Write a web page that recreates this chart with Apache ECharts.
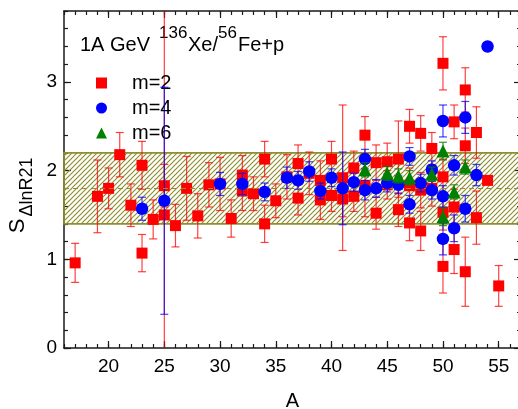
<!DOCTYPE html>
<html><head><meta charset="utf-8">
<script src="https://cdn.jsdelivr.net/npm/echarts@6/dist/echarts.min.js"></script>
<style>html,body{margin:0;padding:0;background:#fff}#c{width:518px;height:409px}</style>
</head><body><div id="c"></div>
<script>
// ---- data ----
const xMajorTicks = [20, 25, 30, 35, 40, 45, 50, 55];
const yMajorTicks = [0, 1, 2, 3];
const xRange = [16, 57];
const yRange = [0, 3.8];

const m2A = [17,19,20,21,22,23,23,24,25,25,26,27,28,29,30,31,32,32,33,34,34,35,36,37,37,38,39,39,40,40,41,41,42,42,43,43,44,44,45,45,46,46,47,47,47,48,48,48,49,49,50,50,50,50,51,51,51,52,52,52,53,53,54,55];
const m2V = [0.96,1.71,1.80,2.18,1.61,2.06,1.07,1.45,1.83,1.50,1.38,1.80,1.49,1.84,1.85,1.46,1.95,1.77,1.74,2.13,1.40,1.66,1.93,2.08,1.69,1.97,1.89,1.67,2.13,1.72,1.92,1.68,2.03,1.71,2.40,1.83,2.09,1.52,2.10,1.84,2.13,1.56,2.50,1.83,1.41,2.42,1.78,1.32,2.25,1.80,3.21,1.93,1.53,0.92,2.55,1.59,1.11,2.91,2.28,0.86,2.43,1.47,1.89,0.70];
const m2E = [0.22,0.41,0.23,0.25,0.24,0.27,0.21,0.22,0.24,3.00,0.24,0.36,0.25,0.25,0.30,0.21,0.22,0.22,0.19,0.20,0.21,0.19,0.25,0.21,0.19,0.24,0.22,0.22,0.20,0.18,0.82,0.20,0.19,0.17,0.21,0.35,0.20,0.18,0.21,0.16,0.43,0.19,0.19,0.20,0.20,0.20,0.20,0.22,0.18,0.20,0.30,0.20,0.20,0.30,0.19,0.20,0.27,0.25,0.20,0.39,0.29,0.30,0.00,0.23];

const m4A = [23,25,30,32,34,36,37,38,39,40,41,42,43,43,44,45,46,47,47,48,49,49,50,50,50,51,51,52,52,53,54];
const m4V = [1.57,1.66,1.85,1.85,1.76,1.92,1.89,1.99,1.77,1.92,1.80,1.87,2.13,1.78,1.80,1.86,1.84,2.16,1.62,1.86,2.01,1.78,2.56,1.71,1.23,2.06,1.35,2.60,1.57,1.95,3.40];
const m4E = [0.13,1.28,0.13,0.12,0.10,0.12,0.10,0.11,0.09,0.10,0.41,0.10,0.11,0.11,0.10,0.10,0.10,0.10,0.10,0.10,0.10,0.10,0.18,0.12,0.18,0.11,0.15,0.18,0.15,0.12,0.00];

const m6A = [43,45,46,47,49,50,50,51,52];
const m6V = [2.01,1.97,1.94,1.92,1.96,2.22,1.48,1.76,2.04];
const m6E = [0.08,0.08,0.08,0.08,0.08,0.10,0.10,0.08,0.08];

const bandLow = 1.4, bandHigh = 2.2, bandMid = 1.8;
const seriesNames = ['m=2', 'm=4', 'm=6'];

// ---- helpers ----
const FONT = "'Liberation Sans', Arial, sans-serif";
const AXIS_COLOR = '#1a1a1a';
const OLIVE = '#8f8f30';

function pts(A, V) { return A.map((a, i) => [a, V[i]]); }
function errs(A, V, E) { return A.map((a, i) => [a, V[i] - E[i], V[i] + E[i]]); }

function hatch() {
  const s = 5;
  const c = document.createElement('canvas');
  c.width = s; c.height = s;
  const g = c.getContext('2d');
  g.strokeStyle = OLIVE;
  g.lineWidth = 1.2;
  g.beginPath();
  g.moveTo(0, s); g.lineTo(s, 0);
  g.moveTo(-1, 1); g.lineTo(1, -1);
  g.moveTo(s - 1, s + 1); g.lineTo(s + 1, s - 1);
  g.stroke();
  return c;
}

function errRender(color) {
  return function (params, api) {
    const x = api.value(0), lo = api.value(1), hi = api.value(2);
    if (!(hi - lo > 0)) return null;
    const p1 = api.coord([x, hi]);
    const p2 = api.coord([x, lo]);
    const w = 4;
    const st = { stroke: color, lineWidth: 1.2, fill: null };
    return {
      type: 'group',
      children: [
        { type: 'line', shape: { x1: p1[0], y1: p1[1], x2: p2[0], y2: p2[1] }, style: st },
        { type: 'line', shape: { x1: p1[0] - w, y1: p1[1], x2: p1[0] + w, y2: p1[1] }, style: st },
        { type: 'line', shape: { x1: p2[0] - w, y1: p2[1], x2: p2[0] + w, y2: p2[1] }, style: st }
      ]
    };
  };
}

const isMult = (v, m) => Math.abs(v / m - Math.round(v / m)) < 1e-6;

const gridRect = { left: 64, top: 11, width: 457, height: 337 };

function minorX(pos, labels) {
  return {
    type: 'value', gridIndex: 0, position: pos, min: xRange[0], max: xRange[1], interval: 1,
    axisLine: { show: true, onZero: false, lineStyle: { color: AXIS_COLOR, width: 1.5 } },
    axisTick: { show: true, inside: true, length: 4, lineStyle: { color: AXIS_COLOR, width: 1.2 } },
    axisLabel: labels ? {
      show: true, margin: 9, color: '#000', fontSize: 19, fontFamily: FONT,
      formatter: v => isMult(v, 5) ? String(Math.round(v)) : ''
    } : { show: false },
    splitLine: { show: false },
    name: labels ? 'A' : '', nameLocation: 'middle', nameGap: 43,
    nameTextStyle: { fontSize: 20, color: '#000', fontFamily: FONT }
  };
}
function majorX(pos) {
  return {
    type: 'value', gridIndex: 1, position: pos, min: xRange[0], max: xRange[1], interval: 1,
    axisLine: { show: false, onZero: false },
    axisTick: { show: true, inside: true, length: 7, customValues: xMajorTicks, lineStyle: { color: AXIS_COLOR, width: 1.2 } },
    axisLabel: { show: false }, splitLine: { show: false }
  };
}
function minorY(pos, labels) {
  return {
    type: 'value', gridIndex: 0, position: pos, min: yRange[0], max: yRange[1], interval: 0.2,
    axisLine: { show: true, onZero: false, lineStyle: { color: AXIS_COLOR, width: 1.5 } },
    axisTick: { show: true, inside: true, length: 4, lineStyle: { color: AXIS_COLOR, width: 1.2 } },
    axisLabel: labels ? {
      show: true, margin: 7, color: '#000', fontSize: 19, fontFamily: FONT,
      formatter: v => isMult(v, 1) ? String(Math.round(v)) : ''
    } : { show: false },
    splitLine: { show: false }
  };
}
function majorY(pos) {
  return {
    type: 'value', gridIndex: 1, position: pos, min: yRange[0], max: yRange[1], interval: 1,
    axisLine: { show: false, onZero: false },
    axisTick: { show: true, inside: true, length: 7, customValues: yMajorTicks, lineStyle: { color: AXIS_COLOR, width: 1.2 } },
    axisLabel: { show: false }, splitLine: { show: false }
  };
}

const chart = echarts.init(document.getElementById('c'), null, { renderer: 'canvas' });
const pattern = { image: hatch(), repeat: 'repeat' };

chart.setOption({
  animation: false,
  backgroundColor: '#fff',
  grid: [
    Object.assign({ outerBoundsMode: 'none', containLabel: false }, gridRect),
    Object.assign({ outerBoundsMode: 'none', containLabel: false }, gridRect)
  ],
  xAxis: [minorX('bottom', true), minorX('top', false), majorX('bottom'), majorX('top')],
  yAxis: [minorY('left', true), minorY('right', false), majorY('left'), majorY('right')],
  legend: {
    orient: 'vertical', left: 91, top: 68, itemWidth: 11, itemHeight: 11, itemGap: 5,
    textStyle: { fontSize: 20, color: '#000', fontFamily: FONT, lineHeight: 20, padding: [0, 0, 0, 20] },
    data: [
      { name: seriesNames[0], icon: 'rect' },
      { name: seriesNames[1], icon: 'circle' },
      { name: seriesNames[2], icon: 'triangle' }
    ]
  },
  graphic: [
    { type: 'text', x: 80, y: 45, style: { text: '1A GeV', font: '20px ' + FONT, fill: '#000', verticalAlign: 'middle' } },
    { type: 'text', x: 159, y: 33, style: { text: '136', font: '17px ' + FONT, fill: '#000', verticalAlign: 'middle' } },
    { type: 'text', x: 188, y: 45, style: { text: 'Xe/', font: '20px ' + FONT, fill: '#000', verticalAlign: 'middle' } },
    { type: 'text', x: 218, y: 33, style: { text: '56', font: '17px ' + FONT, fill: '#000', verticalAlign: 'middle' } },
    { type: 'text', x: 238, y: 45, style: { text: 'Fe+p', font: '20px ' + FONT, fill: '#000', verticalAlign: 'middle' } },
    { type: 'text', x: 18, y: 226, rotation: Math.PI / 2, style: { text: 'S', font: '22px ' + FONT, fill: '#000', align: 'center', verticalAlign: 'middle' } },
    { type: 'text', x: 27, y: 187, rotation: Math.PI / 2, style: { text: 'ΔlnR21', font: '18px ' + FONT, fill: '#000', align: 'center', verticalAlign: 'middle' } }
  ],
  series: [
    {
      type: 'line', name: 'band', xAxisIndex: 0, yAxisIndex: 0, data: [], z: 1, silent: true,
      markArea: {
        silent: true,
        itemStyle: { color: pattern, borderColor: OLIVE, borderWidth: 1.6 },
        data: [[{ yAxis: bandLow }, { yAxis: bandHigh }]]
      },
      markLine: {
        silent: true, symbol: 'none', label: { show: false },
        lineStyle: { color: OLIVE, type: [5, 4], width: 1 },
        data: [{ yAxis: bandMid }]
      }
    },
    { type: 'custom', name: 'm2err', xAxisIndex: 0, yAxisIndex: 0, clip: true, z: 2, renderItem: errRender('rgba(255,0,0,0.75)'), encode: { x: 0, y: [1, 2] }, data: errs(m2A, m2V, m2E) },
    { type: 'scatter', name: seriesNames[0], xAxisIndex: 0, yAxisIndex: 0, z: 3, symbol: 'rect', symbolSize: 11, itemStyle: { color: '#ff0000', opacity: 1 }, data: pts(m2A, m2V) },
    { type: 'custom', name: 'm4err', xAxisIndex: 0, yAxisIndex: 0, clip: true, z: 4, renderItem: errRender('rgba(0,0,255,0.75)'), encode: { x: 0, y: [1, 2] }, data: errs(m4A, m4V, m4E) },
    { type: 'scatter', name: seriesNames[1], xAxisIndex: 0, yAxisIndex: 0, z: 5, symbol: 'circle', symbolSize: 12.5, itemStyle: { color: '#0000ff', opacity: 1 }, data: pts(m4A, m4V) },
    { type: 'custom', name: 'm6err', xAxisIndex: 0, yAxisIndex: 0, clip: true, z: 6, renderItem: errRender('rgba(0,128,0,0.8)'), encode: { x: 0, y: [1, 2] }, data: errs(m6A, m6V, m6E) },
    { type: 'scatter', name: seriesNames[2], xAxisIndex: 0, yAxisIndex: 0, z: 7, symbol: 'triangle', symbolSize: 13, itemStyle: { color: '#008000', opacity: 1 }, data: pts(m6A, m6V) }
  ]
});
</script>
</body></html>
